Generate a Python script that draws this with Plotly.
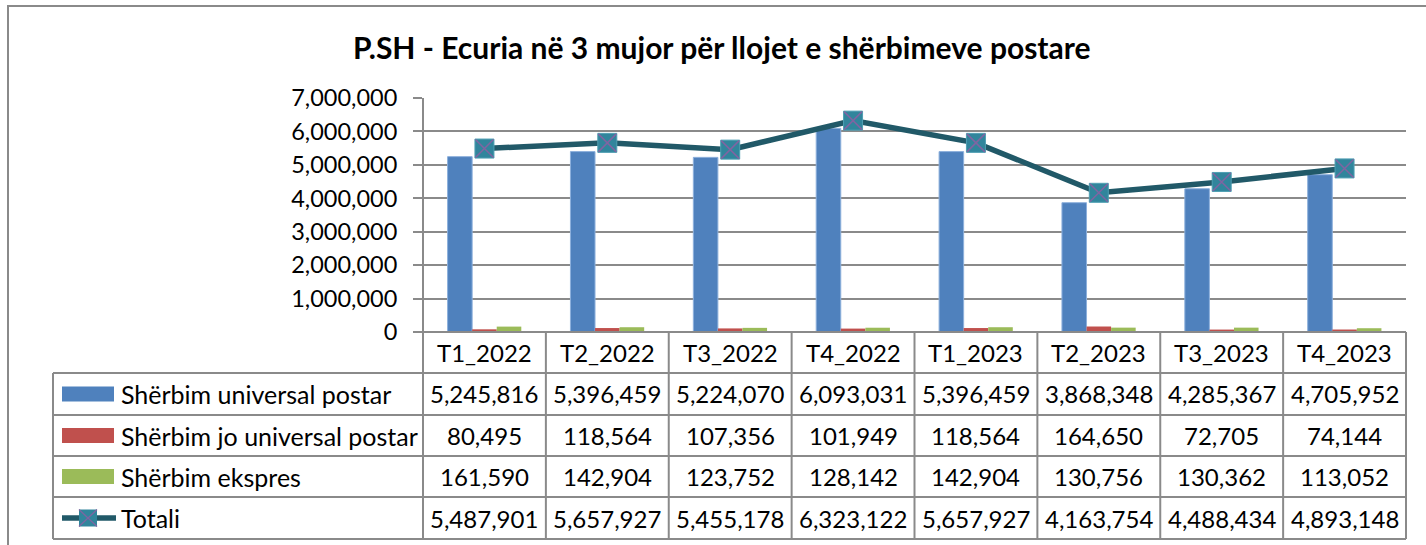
import plotly.graph_objects as go

categories = ["T1_2022", "T2_2022", "T3_2022", "T4_2022", "T1_2023", "T2_2023", "T3_2023", "T4_2023"]
universal = [5245816, 5396459, 5224070, 6093031, 5396459, 3868348, 4285367, 4705952]
jo_universal = [80495, 118564, 107356, 101949, 118564, 164650, 72705, 74144]
ekspres = [161590, 142904, 123752, 128142, 142904, 130756, 130362, 113052]
totali = [5487901, 5657927, 5455178, 6323122, 5657927, 4163754, 4488434, 4893148]
series_names = ["Shërbim universal postar", "Shërbim jo universal postar", "Shërbim ekspres", "Totali"]
title = "P.SH - Ecuria në 3 mujor për llojet e shërbimeve postare"

W, H = 1426, 545
FONT = "Lato"
GRID = "#8a8a8a"
BLUE, RED, GREEN = "#4F81BD", "#C0504D", "#9BBB59"
LINE, MFILL, XCOL = "#215968", "#31859C", "#8064A2"

def px(x):
    return x / W

def py(y):
    return (H - y) / H

x_left, x_right = 423, 1406
y_top, y_zero = 98, 332

idx = list(range(len(categories)))

fig = go.Figure()
fig.add_trace(go.Bar(x=idx, y=universal, name=series_names[0], marker=dict(color=BLUE, line=dict(width=1, color="#8db0dc"))))
fig.add_trace(go.Bar(x=idx, y=jo_universal, name=series_names[1], marker=dict(color=RED, line=dict(width=0))))
fig.add_trace(go.Bar(x=idx, y=ekspres, name=series_names[2], marker=dict(color=GREEN, line=dict(width=0))))
fig.add_trace(go.Scatter(x=idx, y=totali, name=series_names[3], mode="lines+markers",
                         line=dict(color=LINE, width=5.5),
                         marker=dict(symbol="square", size=19, color=MFILL, line=dict(width=1, color="#4f9fb3"))))
fig.add_trace(go.Scatter(x=idx, y=totali, mode="markers", showlegend=False, hoverinfo="skip",
                         marker=dict(symbol="x-thin", size=18, line=dict(width=1.5, color=XCOL))))

shapes = []
annotations = []
line_style = dict(color=GRID, width=2)

rows_y = [373, 415, 456, 497, 539]
shapes.append(dict(type="line", xref="paper", yref="paper", x0=px(x_left), x1=px(x_right), y0=py(y_zero), y1=py(y_zero), line=line_style))
for y in rows_y:
    shapes.append(dict(type="line", xref="paper", yref="paper", x0=px(53), x1=px(x_right), y0=py(y), y1=py(y), line=line_style))
shapes.append(dict(type="line", xref="paper", yref="paper", x0=px(53), x1=px(53), y0=py(373), y1=py(539), line=line_style))
shapes.append(dict(type="line", xref="paper", yref="paper", x0=px(x_left), x1=px(x_left), y0=py(y_top), y1=py(539), line=line_style))
for i in range(1, len(categories)):
    shapes.append(dict(type="line", xref="x", yref="paper", x0=i - 0.5, x1=i - 0.5, y0=py(y_zero), y1=py(539), line=line_style))
shapes.append(dict(type="line", xref="paper", yref="paper", x0=px(x_right), x1=px(x_right), y0=py(y_zero), y1=py(539), line=line_style))
shapes.append(dict(type="rect", xref="paper", yref="paper", x0=px(8), x1=1.02, y0=-0.02, y1=py(6), line=dict(color="#8a8a8a", width=2)))

row_centers = [(rows_y[k] + rows_y[k + 1]) / 2 for k in range(4)]
for color, yc in zip([BLUE, RED, GREEN], row_centers[:3]):
    shapes.append(dict(type="rect", xref="paper", yref="paper", x0=px(62), x1=px(114), y0=py(yc + 7.5), y1=py(yc - 7.5), fillcolor=color, line=dict(width=0)))
yc = row_centers[3]
shapes.append(dict(type="line", xref="paper", yref="paper", x0=px(62), x1=px(116), y0=py(yc), y1=py(yc), line=dict(color=LINE, width=5.5)))
shapes.append(dict(type="rect", xref="paper", yref="paper", x0=px(79), x1=px(97), y0=py(yc + 8.5), y1=py(yc - 8.5), fillcolor=MFILL, line=dict(width=0)))
shapes.append(dict(type="line", xref="paper", yref="paper", x0=px(79), x1=px(97), y0=py(yc + 8.5), y1=py(yc - 8.5), line=dict(color=XCOL, width=1.2)))
shapes.append(dict(type="line", xref="paper", yref="paper", x0=px(79), x1=px(97), y0=py(yc - 8.5), y1=py(yc + 8.5), line=dict(color=XCOL, width=1.2)))

tfont = dict(family=FONT, size=24, color="#000000")
lfont = dict(family=FONT, size=25, color="#000000")
axfont = dict(family=FONT, size=23.5, color="#000000")
for i, c in enumerate(categories):
    annotations.append(dict(x=i, y=py((y_zero + 373) / 2), xref="x", yref="paper", text=c, showarrow=False, font=tfont, xanchor="center", yanchor="middle"))
for name, yc in zip(series_names, row_centers):
    annotations.append(dict(x=px(119), y=py(yc), xref="paper", yref="paper", text=name, showarrow=False, font=lfont, xanchor="left", yanchor="middle"))
for vals, yc in zip([universal, jo_universal, ekspres, totali], row_centers):
    for i, v in enumerate(vals):
        annotations.append(dict(x=i, y=py(yc), xref="x", yref="paper", text=f"{v:,}", showarrow=False, font=tfont, xanchor="center", yanchor="middle"))
annotations.append(dict(x=px(722), y=py(47), xref="paper", yref="paper", text=f"<b>{title}</b>", showarrow=False,
                        font=dict(family=FONT, size=30, color="#000000"), xanchor="center", yanchor="middle"))

fig.update_layout(
    width=W, height=H,
    margin=dict(l=0, r=0, t=0, b=0, pad=0, autoexpand=False),
    paper_bgcolor="white", plot_bgcolor="white",
    barmode="group", bargap=0.4, bargroupgap=0,
    showlegend=False,
    shapes=shapes, annotations=annotations,
    xaxis=dict(domain=[px(x_left), px(x_right)], range=[-0.5, len(categories) - 0.5], showticklabels=False,
               showgrid=False, zeroline=False, showline=False, ticks="", automargin=False),
    yaxis=dict(domain=[py(y_zero), py(y_top)], range=[0, 7000000], dtick=1000000, tickformat=",d",
               showgrid=True, gridcolor=GRID, gridwidth=2, zeroline=False, showline=False,
               ticks="outside", ticklen=9, tickcolor=GRID, tickwidth=2,
               tickfont=axfont, ticklabelstandoff=11, automargin=False),
)

fig.write_html("out.html", config={"displayModeBar": False},
               post_script="document.body.style.margin='0';document.body.style.overflow='hidden';")
